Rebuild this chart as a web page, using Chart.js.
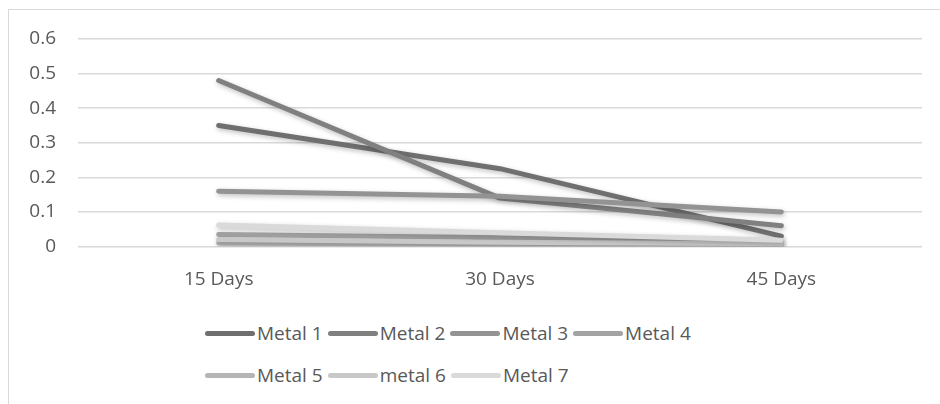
<!DOCTYPE html>
<html lang="en">
<head>
  <meta charset="UTF-8">
  <title>Metal over time</title>
  <script src="https://cdn.jsdelivr.net/npm/chart.js"></script>
  <style>
    body {
      margin: 0;
      background: #fff;
      font-family: "Open Sans", sans-serif;
    }
    .frame {
      position: relative;
      width: 940px;
      height: 404px;
      overflow: hidden;
    }
    .frame .border {
      position: absolute;
      left: 8px;
      top: 9px;
      width: 940px;
      height: 404px;
      border: 1px solid #d9d9d9;
    }
    #chartBox {
      position: absolute;
      left: 0;
      top: 0;
      width: 940px;
      height: 300px;
    }
    #legend {
      position: absolute;
      left: 205px;
      top: 321px;
      width: 580px;
      display: flex;
      flex-wrap: wrap;
      row-gap: 18px;
      color: #595959;
      font-size: 19px;
    }
    #legend .item {
      display: flex;
      align-items: center;
      height: 24px;
      margin-right: 5px;
    }
    #legend .swatch {
      width: 50px;
      height: 5px;
      border-radius: 3px;
      margin-right: 2px;
    }
  </style>
</head>
<body>
  <div class="frame">
    <div class="border"></div>
    <div id="chartBox"><canvas id="metalChart" width="940" height="300"></canvas></div>
    <div id="legend"></div>
  </div>

  <script>
    const days = ["15 Days", "30 Days", "45 Days"];
    const yTicks = ["0", "0.1", "0.2", "0.3", "0.4", "0.5", "0.6"];

    const metalNames = ["Metal 1", "Metal 2", "Metal 3", "Metal 4", "Metal 5", "metal 6", "Metal 7"];
    const metal1 = [0.35, 0.225, 0.03];
    const metal2 = [0.48, 0.14, 0.06];
    const metal3 = [0.16, 0.145, 0.10];
    const metal4 = [0.035, 0.025, 0.015];
    const metal5 = [0.01, 0.006, 0.004];
    const metal6 = [0.02, 0.012, 0.008];
    const metal7 = [0.062, 0.04, 0.018];
    const metalColors = ["#6f6f6f", "#808080", "#939393", "#a3a3a3", "#b5b5b5", "#c8c8c8", "#dadada"];

    const series = [metal1, metal2, metal3, metal4, metal5, metal6, metal7];

    // soft drop shadow under the lines, like the original
    const lineShadow = {
      id: "lineShadow",
      beforeDatasetsDraw(chart) {
        const ctx = chart.ctx;
        ctx.save();
        ctx.shadowColor = "rgba(0,0,0,0.25)";
        ctx.shadowBlur = 5;
        ctx.shadowOffsetX = 1;
        ctx.shadowOffsetY = 2;
      },
      afterDatasetsDraw(chart) {
        chart.ctx.restore();
      }
    };

    // legend in html so rows stay left aligned
    const htmlLegend = {
      id: "htmlLegend",
      afterUpdate(chart) {
        const box = document.getElementById("legend");
        box.innerHTML = "";
        chart.data.datasets.forEach(ds => {
          const item = document.createElement("div");
          item.className = "item";
          const sw = document.createElement("span");
          sw.className = "swatch";
          sw.style.background = ds.borderColor;
          const txt = document.createElement("span");
          txt.textContent = ds.label;
          item.appendChild(sw);
          item.appendChild(txt);
          box.appendChild(item);
        });
      }
    };

    const ctx = document.getElementById("metalChart").getContext("2d");
    new Chart(ctx, {
      type: "line",
      data: {
        labels: days,
        datasets: series.map((vals, i) => ({
          label: metalNames[i],
          data: vals,
          borderColor: metalColors[i],
          backgroundColor: metalColors[i],
          borderWidth: 5,
          borderCapStyle: "round",
          borderJoinStyle: "round",
          pointRadius: 0,
          tension: 0,
          order: metalNames.length - i
        }))
      },
      options: {
        responsive: false,
        animation: false,
        layout: { padding: { left: 0, right: 18, top: 39, bottom: 0 } },
        plugins: {
          legend: { display: false },
          tooltip: { enabled: false }
        },
        scales: {
          x: {
            offset: true,
            grid: { display: false },
            border: { display: false },
            ticks: {
              color: "#595959",
              font: { family: "Open Sans", size: 19 },
              padding: 14,
              maxRotation: 0
            },
            afterFit: scale => { scale.height = 53.5; }
          },
          y: {
            min: 0,
            max: 0.6,
            grid: { color: "#d9d9d9", lineWidth: 1.5, drawTicks: false },
            border: { display: false },
            ticks: {
              stepSize: 0.1,
              color: "#595959",
              font: { family: "Open Sans", size: 19 },
              padding: 22,
              callback: (v, i) => yTicks[i]
            },
            afterFit: scale => { scale.width = 78; }
          }
        }
      },
      plugins: [lineShadow, htmlLegend]
    });
  </script>
</body>
</html>
